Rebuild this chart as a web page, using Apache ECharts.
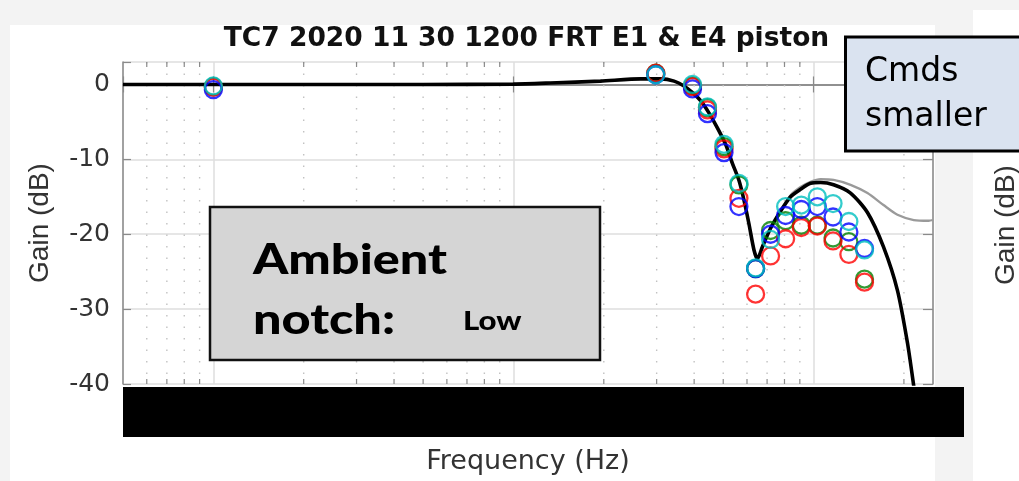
<!DOCTYPE html>
<html>
<head>
<meta charset="utf-8">
<script src="https://cdn.jsdelivr.net/npm/echarts@6/dist/echarts.min.js"></script>
<style>
  html, body { margin: 0; padding: 0; background: #f3f3f3; }
  #page { position: relative; width: 1019px; height: 481px; overflow: hidden; }
  .panel { position: absolute; background: #ffffff; }
  #chart { position: absolute; left: 0; top: 0; width: 1019px; height: 481px; }
</style>
</head>
<body>
<div id="page">
  <div class="panel" style="left:10px;top:25px;width:925px;height:456px"></div>
  <div class="panel" style="left:973px;top:10px;width:46px;height:471px"></div>
  <div id="chart"></div>
</div>
<script>
// ---- text ----
const titleText = 'TC7 2020 11 30 1200 FRT E1 & E4 piston';
const xName = 'Frequency (Hz)';
const yName = 'Gain (dB)';

// ---- axes ----
const xMin = 0.5, xMax = 250;
const yMin = -40, yMax = 3, yStep = 10;
const decadeLabels = [1, 10, 100];
const minorFreqs = [0.6, 0.7, 0.8, 0.9, 2, 3, 4, 5, 6, 7, 8, 9,
                    20, 30, 40, 50, 60, 70, 80, 90, 200];

// ---- measured points (Hz, dB) ----
const freqMeas  = [1, 29.8, 39.5, 44.3, 50.3, 56.4, 64.1, 71.9, 80.7, 91.0, 102.9, 116.1, 131.1, 147.8];
const gainRed   = [-0.4, 1.5, -0.3, -3.4, -8.6, -15.2, -28.0, -22.9, -20.6, -19.1, -18.9, -20.9, -22.7, -26.4];
const gainGreen = [-0.3, 1.5, -0.2, -3.1, -8.3, -13.4, -24.6, -19.5, -18.2, -18.8, -18.8, -20.5, -21.0, -26.0];
const gainBlue  = [-0.7, 1.3, -0.6, -3.9, -9.1, -16.3, -24.6, -20.0, -17.5, -16.7, -16.3, -17.7, -19.7, -21.9];
const gainCyan  = [-0.2, 1.3, 0.0, -3.0, -8.0, -13.2, -24.5, -20.7, -16.3, -16.1, -15.0, -15.9, -18.3, -22.1];

// ---- model response (black) ----
const freqModel = [0.5, 1, 5, 10, 13.3, 19.5, 26.6, 31.0, 34.3, 37.0, 39.5, 42.1, 44.8, 47.8, 51.0, 53.6,
                   56.4, 58.6, 60.9, 63.3, 65.0, 67.5, 71.9, 77.7, 83.8, 90.5, 97.7, 105.5, 116.6,
                   132.8, 151.2, 171.0, 190.3, 205.5, 215.2, 222];
const gainModel = [0, 0, 0, 0.05, 0.2, 0.45, 0.75, 0.75, 0.45, -0.2, -1.1, -2.2, -3.8, -5.8, -8.05, -10.5,
                   -12.8, -15.4, -18.6, -22.1, -23.3, -21.7, -19.2, -16.9, -15.0, -14.0, -13.2, -13.1, -13.4,
                   -14.5, -17.1, -21.7, -27.5, -34.5, -40, -44];

// ---- alternative model (grey) ----
const freqAlt = [0.5, 1, 5, 10, 13.3, 19.5, 26.6, 31.0, 34.3, 37.0, 39.5, 42.1, 44.8, 47.8, 51.0, 53.6,
                 56.4, 58.6, 60.9, 63.3, 65.0, 67.5, 71.9, 77.7, 83.8, 90.5, 97.7, 105.5, 116.6,
                 132.8, 151.2, 171.0, 190.3, 215.7, 241.9, 250];
const gainAlt = [0, 0, 0, 0.05, 0.2, 0.45, 0.75, 0.75, 0.45, -0.2, -1.1, -2.2, -3.8, -5.8, -8.05, -10.5,
                 -12.8, -15.4, -18.6, -22.1, -23.3, -21.7, -19.2, -16.9, -14.8, -13.7, -13.0, -12.66, -12.75,
                 -13.4, -14.5, -16.1, -17.4, -18.1, -18.2, -18.1];

const pair = (xs, ys) => xs.map((x, i) => [x, ys[i]]);

const axisGrey = '#8a8a8a';
const gridGrey = '#dedede';
const textGrey = '#333333';

function circles(name, ys, color, z) {
  return {
    name, type: 'scatter', z,
    data: pair(freqMeas, ys),
    symbol: 'circle', symbolSize: 17,
    itemStyle: { color: 'rgba(0,0,0,0)', borderColor: color, borderWidth: 2.3 },
    emphasis: { disabled: true }, silent: true
  };
}

const chart = echarts.init(document.getElementById('chart'), null, { renderer: 'canvas' });

chart.setOption({
  backgroundColor: 'transparent',
  animation: false,
  grid: { left: 123, top: 62, width: 810, height: 322, show: false },
  xAxis: [
    {
      type: 'log', logBase: 10, min: xMin, max: xMax, position: 'bottom',
      name: xName, nameLocation: 'middle', nameGap: 64,
      nameTextStyle: { fontFamily: 'DejaVu Sans', fontSize: 27, color: textGrey },
      axisLine: { show: true, lineStyle: { color: axisGrey, width: 1.5 } },
      axisTick: { show: true, inside: true, length: 8, lineStyle: { color: axisGrey, width: 1.2 } },
      axisLabel: {
        show: true, fontFamily: 'DejaVu Sans', fontSize: 25, color: textGrey, margin: 10,
        formatter: v => decadeLabels.some(d => Math.abs(d - v) < 1e-6) ? String(v) : ''
      },
      splitLine: { show: true, lineStyle: { color: gridGrey, width: 1.5 } },
      minorTick: { show: false }
    },
    {
      type: 'log', logBase: 10, min: xMin, max: xMax, position: 'top',
      axisLine: { show: true, lineStyle: { color: axisGrey, width: 1.5 } },
      axisTick: { show: true, inside: true, length: 8, lineStyle: { color: axisGrey, width: 1.2 } },
      axisLabel: { show: false },
      splitLine: { show: false }
    }
  ],
  yAxis: [
    {
      type: 'value', min: yMin, max: yMax, interval: yStep, position: 'left',
      name: yName, nameLocation: 'middle', nameGap: 69, nameRotate: 90,
      nameTextStyle: { fontFamily: 'Liberation Sans', fontSize: 28, color: textGrey },
      axisLine: { show: true, lineStyle: { color: axisGrey, width: 1.5 } },
      axisTick: { show: true, inside: true, length: 8, lineStyle: { color: axisGrey, width: 1.2 } },
      axisLabel: {
        fontFamily: 'DejaVu Sans', fontSize: 25, color: textGrey, margin: 13,
        formatter: v => (v % yStep === 0 ? String(v) : '')
      },
      splitLine: { show: true, lineStyle: { color: gridGrey, width: 1.5 } }
    },
    {
      type: 'value', min: yMin, max: yMax, interval: yStep, position: 'right',
      axisLine: { show: true, lineStyle: { color: axisGrey, width: 1.5 } },
      axisTick: { show: true, inside: true, length: 10, lineStyle: { color: axisGrey, width: 1.2 } },
      axisLabel: { show: false },
      splitLine: { show: false }
    }
  ],
  series: [
    {
      // dotted minor grid lines and minor ticks at 2..9 of each decade
      type: 'custom', silent: true, z: 1, clip: false,
      xAxisIndex: 0, yAxisIndex: 0,
      data: minorFreqs.map(f => [f, yMin]),
      encode: { x: 0, y: 1 },
      renderItem(params, api) {
        const f = api.value(0);
        const top = api.coord([f, yMax]);
        const bot = api.coord([f, yMin]);
        return {
          type: 'group',
          children: [
            { type: 'line', shape: { x1: top[0], y1: top[1], x2: bot[0], y2: bot[1] },
              style: { stroke: '#c2c2c2', lineWidth: 1.4, lineDash: [1.5, 10] } },
            { type: 'line', shape: { x1: top[0], y1: top[1], x2: top[0], y2: top[1] + 5 },
              style: { stroke: axisGrey, lineWidth: 1.2 } },
            { type: 'line', shape: { x1: bot[0], y1: bot[1], x2: bot[0], y2: bot[1] - 5 },
              style: { stroke: axisGrey, lineWidth: 1.2 } }
          ]
        };
      }
    },
    {
      name: 'alt model', type: 'line', z: 2, clip: true,
      data: pair(freqAlt, gainAlt), showSymbol: false, smooth: 0.25,
      lineStyle: { color: '#9a9a9a', width: 2.3 }, silent: true
    },
    {
      name: 'model', type: 'line', z: 3, clip: true,
      data: pair(freqModel, gainModel), showSymbol: false, smooth: 0.25,
      lineStyle: { color: '#000000', width: 3.6 }, silent: true
    },
    circles('green', gainGreen, '#008000', 4),
    circles('red', gainRed, '#ff0000', 5),
    circles('blue', gainBlue, '#0000ff', 6),
    circles('cyan', gainCyan, '#00bfbf', 7)
  ],
  graphic: [
    { type: 'text', x: 526.5, y: 39, z: 100,
      style: { text: titleText, font: 'bold 26.5px "DejaVu Sans"', fill: '#111111',
               align: 'center', verticalAlign: 'middle' } },
    // covering bar over the frequency tick labels
    { type: 'rect', z: 100, shape: { x: 123, y: 387, width: 841, height: 50 },
      style: { fill: '#000000' } },
    // annotation: ambient notch
    { type: 'rect', z: 100, shape: { x: 210, y: 207, width: 390, height: 153 },
      style: { fill: '#d5d5d5', stroke: '#111111', lineWidth: 2.5 } },
    { type: 'text', z: 101, x: 253, y: 260, scaleX: 1.2,
      style: { text: 'Ambient', font: '900 42px Lato', fill: '#000000', align: 'left', verticalAlign: 'middle' } },
    { type: 'text', z: 101, x: 253, y: 320, scaleX: 1.2,
      style: { text: 'notch:', font: '900 42px Lato', fill: '#000000', align: 'left', verticalAlign: 'middle' } },
    { type: 'text', z: 101, x: 463, y: 322, scaleX: 1.2,
      style: { text: 'Low', font: '900 26px Lato', fill: '#000000', align: 'left', verticalAlign: 'middle' } },
    // annotation: commands
    { type: 'rect', z: 100, shape: { x: 845.5, y: 37, width: 200, height: 114 },
      style: { fill: '#dae3f0', stroke: '#000000', lineWidth: 3 } },
    { type: 'text', z: 101, x: 865, y: 72,
      style: { text: 'Cmds', font: '33px "DejaVu Sans"', fill: '#000000', align: 'left', verticalAlign: 'middle' } },
    { type: 'text', z: 101, x: 865, y: 117,
      style: { text: 'smaller', font: '33px "DejaVu Sans"', fill: '#000000', align: 'left', verticalAlign: 'middle' } },
    // axis title of the neighbouring panel
    { type: 'text', z: 50, x: 1006, y: 225, rotation: Math.PI / 2,
      style: { text: yName, font: '28px "Liberation Sans"', fill: textGrey, align: 'center', verticalAlign: 'middle' } }
  ]
});
</script>
</body>
</html>
